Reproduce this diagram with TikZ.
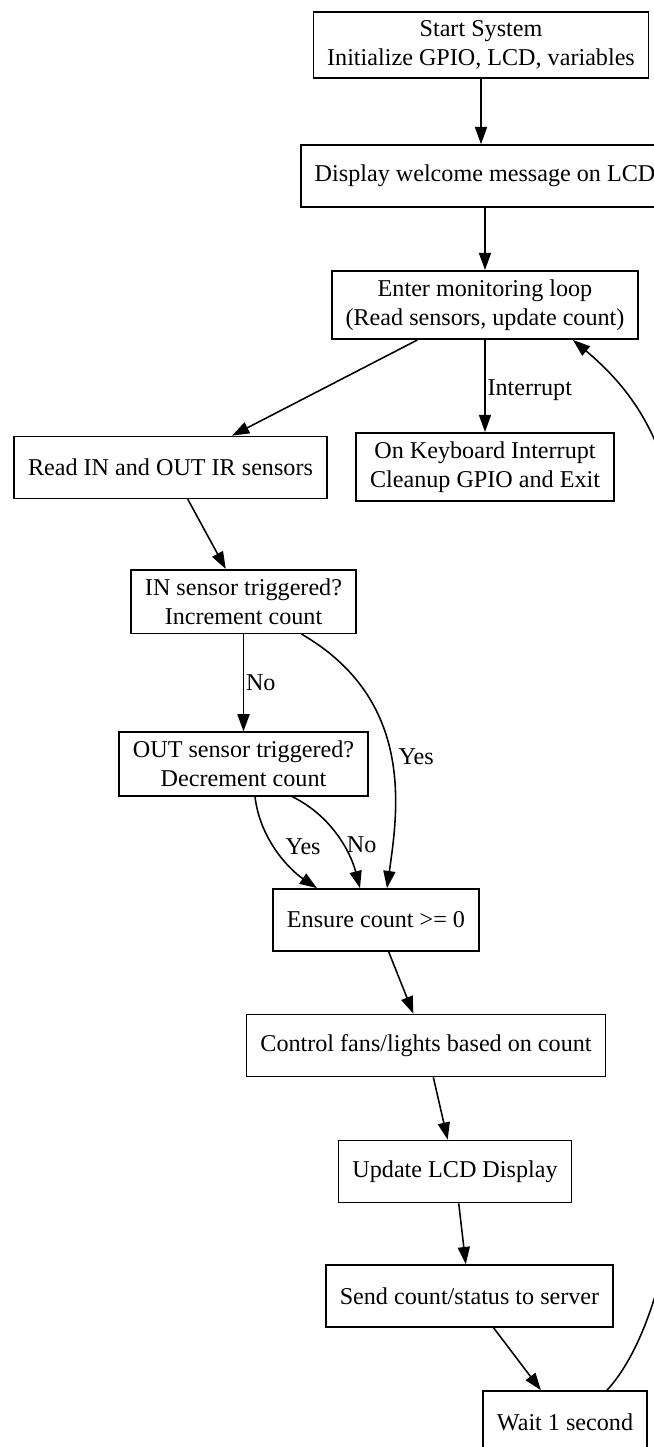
\documentclass[tikz,border=0pt]{standalone}
\usepackage{fontspec}
\setmainfont{Liberation Serif}
\usetikzlibrary{arrows.meta, calc}

\begin{document}
\begin{tikzpicture}[x=0.58pt, y=-0.58pt,
    flowbox/.style={draw, line width=0.9pt, align=center, font=\fontsize{14}{17}\selectfont,
        inner xsep=8pt, inner ysep=5pt, minimum height=36pt},
    lbl/.style={font=\fontsize{14}{17}\selectfont, inner sep=1pt},
    arr/.style={line width=0.9pt, -{Triangle[length=10pt, width=7pt]}}]
                \useasboundingbox (0,0) rectangle (654,1447);
                \clip (0,0) rectangle (654,1447);
                \node[flowbox] (start) at (481,45) {Start System\\Initialize GPIO, LCD, variables};
                \node[flowbox] (display) at (485,176) {Display welcome message on LCD};
                \node[flowbox] (enter) at (485,305) {Enter monitoring loop\\(Read sensors, update count)};
                \node[flowbox] (read) at (170.5,467.5) {Read IN and OUT IR sensors};
                \node[flowbox] (onkey) at (485,467) {On Keyboard Interrupt\\Cleanup GPIO and Exit};
                \node[flowbox] (insens) at (243.5,601.5) {IN sensor triggered?\\Increment count};
                \node[flowbox] (outsens) at (243.5,764) {OUT sensor triggered?\\Decrement count};
                \node[flowbox] (ensure) at (376,920) {Ensure count >= 0};
                \node[flowbox] (control) at (426,1045.5) {Control fans/lights based on count};
                \node[flowbox] (update) at (455,1171.5) {Update LCD Display};
                \node[flowbox] (send) at (469.5,1296) {Send count/status to server};
                \node[flowbox] (wait) at (565,1422) {Wait 1 second};
                \draw[arr] (start.south) -- (start.south |- display.north);
                \draw[arr] (display) -- (enter);
                \draw[arr] (enter) -- (read);
                \draw[arr] (enter) -- node[lbl, right, pos=0.55] {Interrupt} (onkey);
                \draw[arr] (read) -- (insens);
                \draw[arr] (insens) -- node[lbl, right] {No} (outsens);
                \draw[arr] ($(insens.south)+(58,0)$) .. controls (415,700) and (398,810)
                    .. node[lbl, right=3pt] {Yes} ($(ensure.north)+(11,0)$);
                \draw[arr] ($(outsens.south)+(11.5,0)$) .. controls (260,840) and (290,870)
                    .. node[lbl, pos=0.45, right=5pt] {Yes} ($(ensure.north)+(-59,0)$);
                \draw[arr] ($(outsens.south)+(48.5,0)$) .. controls (330,815) and (350,850)
                    .. node[lbl, pos=0.6, right=1pt] {No} ($(ensure.north)+(-16,0)$);
                \draw[arr] (ensure) -- (control);
                \draw[arr] (control) -- (update);
                \draw[arr] (update) -- (send);
                \draw[arr] (send) -- (wait);
                \draw[arr] ($(wait.north)+(42,0)$) .. controls (657,1336) and (690,1200) .. (690,1000)
                    -- (690,700) .. controls (690,500) and (665,417) .. ($(enter.south)+(88,0)$);
            \end{tikzpicture}
\end{document}
